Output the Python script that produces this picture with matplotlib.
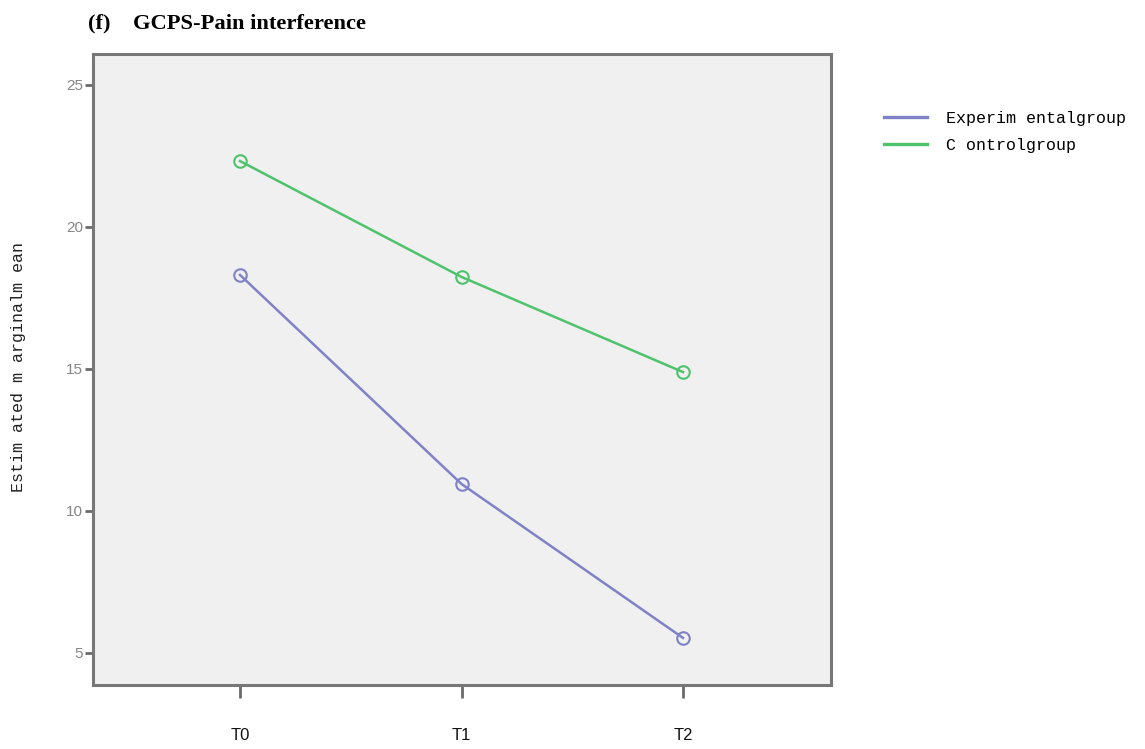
import matplotlib
matplotlib.use("Agg")
import matplotlib.pyplot as plt
from matplotlib.lines import Line2D

time_points = ["T0", "T1", "T2"]
experimental = [18.31, 10.95, 5.53]
control = [22.32, 18.24, 14.89]
y_ticks = [5, 10, 15, 20, 25]

exp_color = "#7f82c6"
ctl_color = "#4fc36c"

fig = plt.figure(figsize=(11.45, 7.49), dpi=100)
ax = fig.add_axes([0.0812, 0.0854, 0.6445, 0.8425])
ax.set_facecolor("#f0f0f0")

x = list(range(len(time_points)))
ax.plot(x, experimental, color=exp_color, lw=1.8, marker="o", ms=9,
        mfc="none", mec=exp_color, mew=1.5)
ax.plot(x, control, color=ctl_color, lw=1.8, marker="o", ms=9,
        mfc="none", mec=ctl_color, mew=1.5)

ax.set_xlim(-0.664, 2.668)
ax.set_ylim(3.87, 26.09)
ax.set_xticks(x)
ax.set_xticklabels(time_points, family="Liberation Sans", fontsize=12, color="#111111")
ax.set_yticks(y_ticks)
ax.set_yticklabels([str(v) for v in y_ticks], family="Liberation Sans",
                   fontsize=11, color="#858585")
ax.tick_params(axis="x", length=9, width=2, color="#6a6a6a", pad=22)
ax.tick_params(axis="y", length=6, width=2, color="#6a6a6a", pad=1)
for s in ax.spines.values():
    s.set_color("#777777")
    s.set_linewidth(2.2)

fig.text(88 / 1145, 1 - 23 / 749, "(f)    GCPS-Pain interference",
         family="Liberation Serif", fontweight="bold", fontsize=16.2,
         ha="left", va="center")

fig.text(19 / 1145, 1 - 367 / 749, "Estim ated m arginalm ean",
         family="Liberation Mono", fontsize=12, rotation=90,
         ha="center", va="center", color="#222222")

handles = [Line2D([0], [0], color=exp_color, lw=2.4),
           Line2D([0], [0], color=ctl_color, lw=2.4)]
fig.legend(handles, ["Experim entalgroup", "C ontrolgroup"],
           loc="upper left", bbox_to_anchor=(869 / 1145, 1 - 96 / 749),
           frameon=False, prop={"family": "Liberation Mono", "size": 12},
           handlelength=2.6, handletextpad=1.1, labelspacing=0.7)

fig.savefig("out.png", dpi=100)
